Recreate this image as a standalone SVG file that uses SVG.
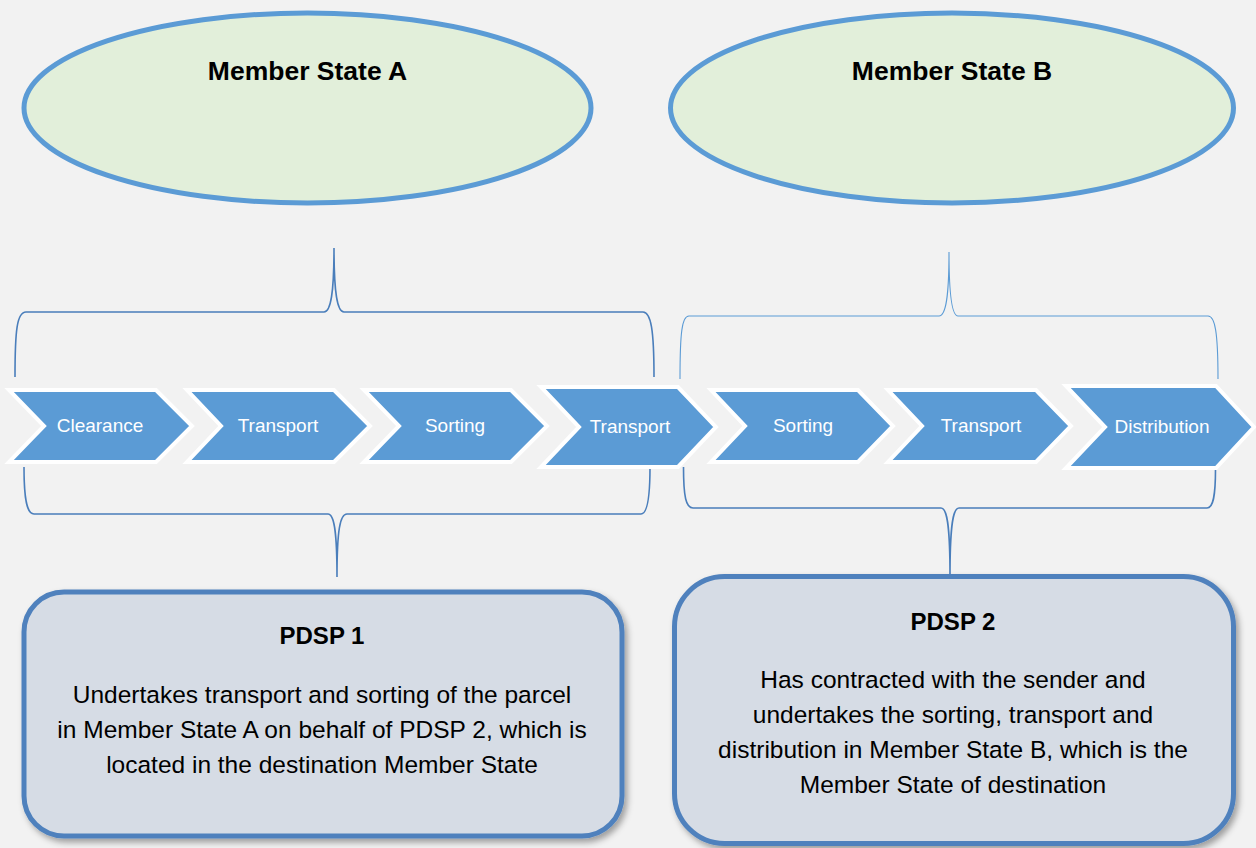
<svg xmlns="http://www.w3.org/2000/svg" width="1256" height="848" viewBox="0 0 1256 848">
  <defs>
    <filter id="shadow" x="-5%" y="-5%" width="112%" height="115%">
      <feDropShadow dx="3" dy="4" stdDeviation="3" flood-color="#000" flood-opacity="0.35"/>
    </filter>
    <style>
      .state { fill: #e2efda; stroke: #5b9bd5; stroke-width: 5; }
      .title { font-family: "Liberation Sans", Arial, sans-serif; font-weight: bold; fill: #000; text-anchor: middle; }
      .chev { fill: #5b9bd5; stroke: #ffffff; stroke-width: 4; stroke-linejoin: miter; }
      .chev-label { font-family: "Liberation Sans", Arial, sans-serif; font-size: 19px; fill: #ffffff; text-anchor: middle; }
      .box { fill: #d6dce5; stroke: #4f81bd; stroke-width: 5; filter: url(#shadow); }
      .body { font-family: "Liberation Sans", Arial, sans-serif; font-size: 24.5px; fill: #000; text-anchor: middle; }
      .brace { fill: none; stroke: #4a7ebb; stroke-width: 1.6; }
      .brace-thin { fill: none; stroke: #5b9bd5; stroke-width: 1.1; }
    </style>
  </defs>

  <rect width="1256" height="848" fill="#f2f2f2"/>

  <!-- Member states -->
  <g id="state-a">
    <ellipse class="state" cx="307.5" cy="108" rx="283.5" ry="95"/>
    <text class="title" x="307.5" y="80" font-size="26.5">Member State A</text>
  </g>
  <g id="state-b">
    <ellipse class="state" cx="952" cy="108" rx="281.5" ry="95"/>
    <text class="title" x="952" y="80" font-size="26.5">Member State B</text>
  </g>

  <!-- Braces -->
  <g id="connectors">
    <path class="brace" d="M15 377 C15 330 17 312 26 312 L324 312 C331 312 334 292 334 248 C334 292 337 312 344 312 L643 312 C651 312 654 330 654 377"/>
    <path class="brace" d="M24 467 C24 500 27 514 34 514 L328 514 C334 514 337 530 337 577 C337 530 340 514 347 514 L641 514 C647 514 650 500 650 467"/>
    <path class="brace-thin" d="M680 379 C680 332 682 316 689 316 L939 316 C946 316 949 296 949 252 C949 296 952 316 958 316 L1208 316 C1215 316 1218 332 1218 379"/>
    <path class="brace" d="M683.5 467 C683.5 497 686 508 693 508 L941 508 C947 508 950 524 950 576 C950 524 953 508 959 508 L1207 508 C1213 508 1215.5 497 1215.5 469"/>
  </g>

  <!-- Process chevrons -->
  <g id="step-clearance">
    <polygon class="chev" points="9,390 156,390 192,426 156,462 9,462 44,426"/>
    <text class="chev-label" x="100" y="432">Clearance</text>
  </g>
  <g id="step-transport-1">
    <polygon class="chev" points="187,390 334,390 370,426 334,462 187,462 221,426"/>
    <text class="chev-label" x="278" y="432">Transport</text>
  </g>
  <g id="step-sorting-1">
    <polygon class="chev" points="364,390 511,390 547,426 511,462 364,462 399,426"/>
    <text class="chev-label" x="455" y="432">Sorting</text>
  </g>
  <g id="step-transport-2">
    <polygon class="chev" points="541,387 678,387 716,427 678,467 541,467 579,427"/>
    <text class="chev-label" x="630" y="433">Transport</text>
  </g>
  <g id="step-sorting-2">
    <polygon class="chev" points="711,390 858,390 893,426 858,462 711,462 745,426"/>
    <text class="chev-label" x="803" y="432">Sorting</text>
  </g>
  <g id="step-transport-3">
    <polygon class="chev" points="888,390 1036,390 1071,426 1036,462 888,462 922,426"/>
    <text class="chev-label" x="981" y="432">Transport</text>
  </g>
  <g id="step-distribution">
    <polygon class="chev" points="1066,386 1216,386 1254,427 1216,468 1066,468 1105,427"/>
    <text class="chev-label" x="1162" y="433" font-size="20">Distribution</text>
  </g>

  <!-- Providers -->
  <g id="pdsp-1">
    <rect class="box" x="24" y="592" width="598" height="244" rx="40" ry="40"/>
    <text class="title" x="322" y="644" font-size="24">PDSP 1</text>
    <text class="body" x="322" y="703">Undertakes transport and sorting of the parcel</text>
    <text class="body" x="322" y="738">in Member State A on behalf of PDSP 2, which is</text>
    <text class="body" x="322" y="773">located in the destination Member State</text>
  </g>
  <g id="pdsp-2">
    <rect class="box" x="674.5" y="576.5" width="559" height="267" rx="50" ry="50"/>
    <text class="title" x="953" y="630" font-size="24">PDSP 2</text>
    <text class="body" x="953" y="688">Has contracted with the sender and</text>
    <text class="body" x="953" y="723">undertakes the sorting, transport and</text>
    <text class="body" x="953" y="758">distribution in Member State B, which is the</text>
    <text class="body" x="953" y="793">Member State of destination</text>
  </g>
</svg>
